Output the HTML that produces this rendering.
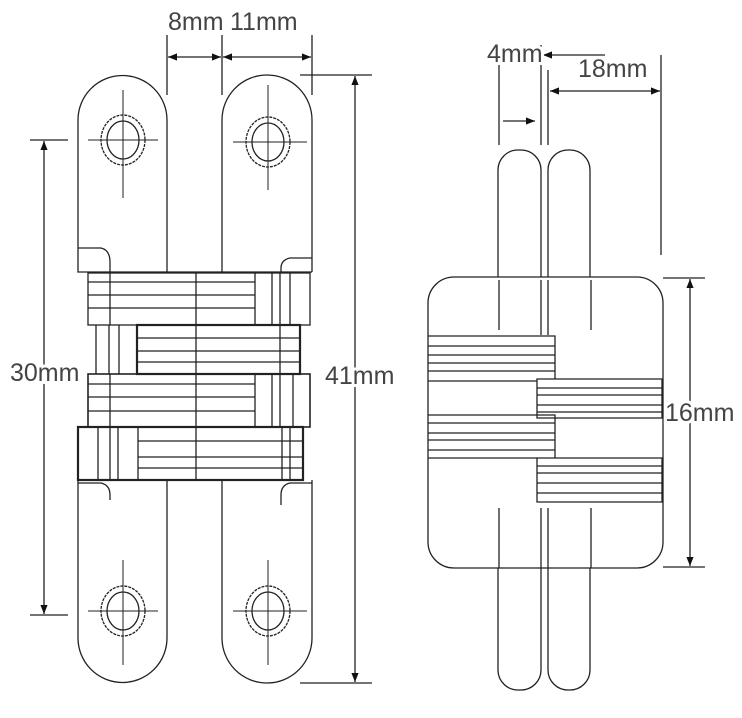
<!DOCTYPE html>
<html><head><meta charset="utf-8"><style>
html,body{margin:0;padding:0;background:#fff;}
svg{display:block;}
text{font-family:"Liberation Sans",sans-serif;fill:#444;font-size:25px;paint-order:stroke;stroke:#fff;stroke-width:6px;}
</style></head><body>
<svg width="742" height="718" viewBox="0 0 742 718" xmlns="http://www.w3.org/2000/svg">
<defs>
<marker id="a" viewBox="0 0 10 10" refX="10" refY="5" markerWidth="7" markerHeight="7" orient="auto-start-reverse"><path d="M0,1 L10,5 L0,9 z" fill="#111"/></marker>
</defs>
<g fill="none" stroke="#222" stroke-width="1.3">
<path d="M78,250 V120 A44.5,44.5 0 0 1 167,120 V272"/>
<path d="M222,272 V120 A45,45 0 0 1 312,120 V272"/>
<path d="M78,250 V272 H312"/>
<path d="M78,248 H101 Q110,250 110,262 V272"/>
<path d="M312,258 H290 Q281,260 281,268 V272"/>
<ellipse cx="123" cy="140" rx="22" ry="25" stroke-dasharray="3,1"/>
<ellipse cx="123" cy="140" rx="16" ry="19"/>
<ellipse cx="268" cy="142" rx="22" ry="25" stroke-dasharray="3,1"/>
<ellipse cx="268" cy="142" rx="16" ry="19"/>
<path d="M123,90 V198 M88,140 H158 M268,85 V190 M233,142 H307" stroke-width="1"/>
<path d="M78,480 V638 A44.5,44.5 0 0 0 167,638 V480"/>
<path d="M222,480 V638 A45,45 0 0 0 312,638 V480"/>
<path d="M78,483 H101 Q110,485 110,495 V500"/>
<path d="M312,483 H290 Q281,485 281,495 V505"/>
<ellipse cx="123" cy="611" rx="22" ry="25" stroke-dasharray="3,1"/>
<ellipse cx="123" cy="611" rx="16" ry="19"/>
<ellipse cx="268" cy="611" rx="22" ry="25" stroke-dasharray="3,1"/>
<ellipse cx="268" cy="611" rx="16" ry="19"/>
<path d="M123,560 V665 M88,611 H158 M268,560 V665 M233,611 H307" stroke-width="1"/>
<rect x="88" y="273" width="222" height="52"/>
<path d="M110,273 V325 M196,273 V325 M255,273 V325 M272,273 V325 M280,273 V325 M290,273 V325"/>
<path d="M88,282 H255 M88,295 H255 M88,308 H255"/>
<rect x="137" y="325" width="163" height="49" stroke-width="2.2"/>
<path d="M96,325 V374 M109,325 V374 M119,325 V374 M196,325 V374 M280,325 V374"/>
<path d="M137,338 H300 M137,351 H300 M137,362 H300"/>
<rect x="88" y="374" width="222" height="53" stroke-width="1.6"/>
<path d="M110,374 V427 M196,374 V427 M255,374 V427 M272,374 V427 M280,374 V427 M293,374 V427"/>
<path d="M88,384 H255 M88,397 H255 M88,411 H255"/>
<rect x="78" y="427" width="225" height="53" stroke-width="2.2"/>
<path d="M98,427 V480 M110,427 V480 M118,427 V480 M138,427 V480 M196,427 V480 M282,427 V480 M290,427 V480"/>
<path d="M138,441 H303 M138,457 H303 M138,468 H303"/>
<path d="M167,35 V95 M222,35 V95 M312,35 V95"/>
<path d="M168,57 H221" marker-start="url(#a)" marker-end="url(#a)"/>
<path d="M223,57 H311" marker-start="url(#a)" marker-end="url(#a)"/>
<path d="M300,75 H372 M300,683 H372"/>
<path d="M355,76 V682" marker-start="url(#a)" marker-end="url(#a)"/>
<path d="M30,140 H68 M30,615 H68"/>
<path d="M44,141 V614" marker-start="url(#a)" marker-end="url(#a)"/>
<rect x="498" y="150" width="43" height="540" rx="20"/>
<rect x="548" y="150" width="42" height="540" rx="20"/>
<rect x="428" y="277" width="235" height="291" rx="26" fill="#fff"/>
<path d="M499,280 V330 M541,280 V335 M548,280 V335 M591,280 V330"/>
<path d="M499,508 V568 M541,508 V568 M548,508 V568 M591,508 V568"/>
<path d="M428,336 H555 V379 M428,346 H555 M428,355 H555 M428,363 H555 M428,371 H555 M428,381 H537"/>
<path d="M537,379 H662 V418 H537 Z M537,388 H662 M537,395 H662 M537,405 H662 M537,412 H662"/>
<path d="M428,415 H555 V458 M428,423 H555 M428,433 H555 M428,440 H555 M428,450 H555 M428,458 H537"/>
<path d="M537,458 H662 V502 H537 Z M537,466 H662 M537,473 H662 M537,483 H662 M537,493 H662"/>
<path d="M499,45 V145 M541,45 V145 M548,70 V145 M661,55 V255"/>
<path d="M503,121 H535" marker-end="url(#a)"/>
<path d="M605,55 H543" marker-end="url(#a)"/>
<path d="M550,91 H660" marker-start="url(#a)" marker-end="url(#a)"/>
<path d="M663,278 H705 M663,567 H705"/>
<path d="M690,279 V566" marker-start="url(#a)" marker-end="url(#a)"/>
</g>
<text x="168" y="30">8mm</text>
<text x="230" y="30">11mm</text>
<text x="10" y="381">30mm</text>
<text x="325" y="384">41mm</text>
<text x="487" y="62">4mm</text>
<text x="578" y="77">18mm</text>
<text x="665" y="421">16mm</text>
</svg>
</body></html>
